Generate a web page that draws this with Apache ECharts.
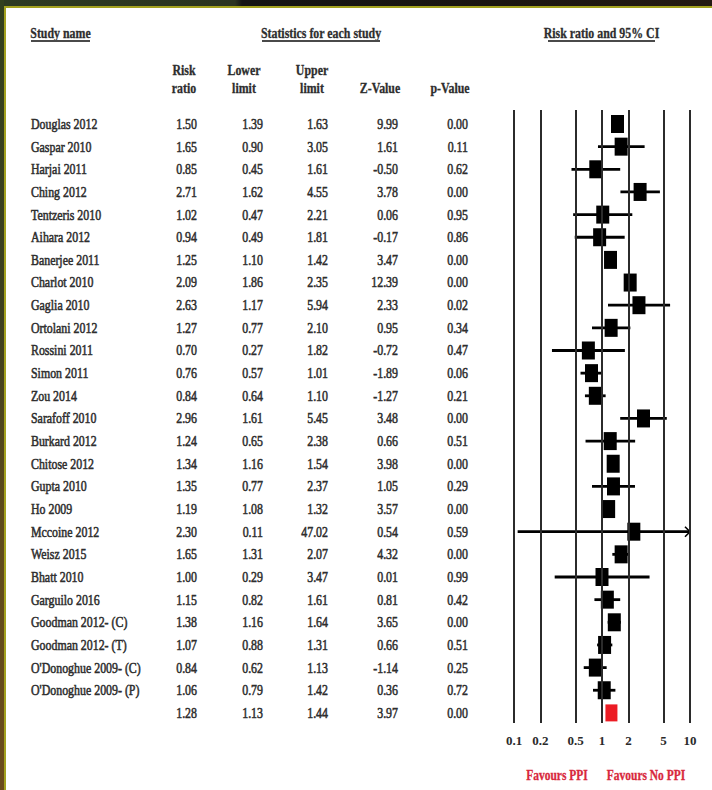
<!DOCTYPE html>
<html>
<head>
<meta charset="utf-8">
<title>Risk ratio and 95% CI</title>
<script src="https://cdn.jsdelivr.net/npm/echarts@6/dist/echarts.min.js"></script>
<style>
  html, body { margin: 0; padding: 0; overflow: hidden; }
  #frame { position: relative; width: 712px; height: 790px; background: #ffffff; }
  #topband { position: absolute; left: 0; top: 0; width: 712px; height: 6px;
    background: linear-gradient(to right, #2d3a22 0%, #2a3320 33%, #141414 34%, #1a1511 70%, #241a12 100%); }
  #topline { position: absolute; left: 0; top: 6px; width: 712px; height: 2px; background: #a3a11f; }
  #leftband { position: absolute; left: 0; top: 0; width: 4px; height: 790px;
    background: linear-gradient(to bottom, #33401f 0%, #3d3f20 40%, #5e4a1c 65%, #6b4b1c 100%); }
  #leftline { position: absolute; left: 4px; top: 6px; width: 2px; height: 784px; background: #a3a11f; }
  #chart { position: absolute; left: 0; top: 0; width: 712px; height: 790px; }
</style>
</head>
<body>
<div id="frame">
  <div id="topband"></div>
  <div id="topline"></div>
  <div id="leftband"></div>
  <div id="leftline"></div>
  <div id="chart"></div>
</div>
<script>
// ---- Study data ----
const studies = [
  'Douglas 2012', 'Gaspar 2010', 'Harjai 2011', 'Ching 2012', 'Tentzeris 2010',
  'Aihara 2012', 'Banerjee 2011', 'Charlot 2010', 'Gaglia 2010', 'Ortolani 2012',
  'Rossini 2011', 'Simon 2011', 'Zou 2014', 'Sarafoff 2010', 'Burkard 2012',
  'Chitose 2012', 'Gupta 2010', 'Ho 2009', 'Mccoine 2012', 'Weisz 2015',
  'Bhatt 2010', 'Garguilo 2016', 'Goodman 2012- (C)', 'Goodman 2012- (T)',
  "O'Donoghue 2009- (C)", "O'Donoghue 2009- (P)"
];
const riskRatio  = [1.50, 1.65, 0.85, 2.71, 1.02, 0.94, 1.25, 2.09, 2.63, 1.27, 0.70, 0.76, 0.84, 2.96, 1.24, 1.34, 1.35, 1.19, 2.30, 1.65, 1.00, 1.15, 1.38, 1.07, 0.84, 1.06];
const lowerLimit = [1.39, 0.90, 0.45, 1.62, 0.47, 0.49, 1.10, 1.86, 1.17, 0.77, 0.27, 0.57, 0.64, 1.61, 0.65, 1.16, 0.77, 1.08, 0.11, 1.31, 0.29, 0.82, 1.16, 0.88, 0.62, 0.79];
const upperLimit = [1.63, 3.05, 1.61, 4.55, 2.21, 1.81, 1.42, 2.35, 5.94, 2.10, 1.82, 1.01, 1.10, 5.45, 2.38, 1.54, 2.37, 1.32, 47.02, 2.07, 3.47, 1.61, 1.64, 1.31, 1.13, 1.42];
const zValue     = [9.99, 1.61, -0.50, 3.78, 0.06, -0.17, 3.47, 12.39, 2.33, 0.95, -0.72, -1.89, -1.27, 3.48, 0.66, 3.98, 1.05, 3.57, 0.54, 4.32, 0.01, 0.81, 3.65, 0.66, -1.14, 0.36];
const pValue     = [0.00, 0.11, 0.62, 0.00, 0.95, 0.86, 0.00, 0.00, 0.02, 0.34, 0.47, 0.06, 0.21, 0.00, 0.51, 0.00, 0.29, 0.00, 0.59, 0.00, 0.99, 0.42, 0.00, 0.51, 0.25, 0.72];

// Pooled estimate
const pooledRiskRatio = 1.28;
const pooledLower = 1.13;
const pooledUpper = 1.44;
const pooledZ = 3.97;
const pooledP = 0.00;

// Forest-plot axis
const tickValues = [0.1, 0.2, 0.5, 1, 2, 5, 10];
const tickLabels = ['0.1', '0.2', '0.5', '1', '2', '5', '10'];
const axisMin = 0.1;
const axisMax = 10;

// ---- Layout & style ----
const SERIF = '"Liberation Serif", "DejaVu Serif", serif';
const SQX = 0.82;                 // horizontal squeeze for the condensed look
const TEXT = '#2e2e2e';
const ROW_MIN = -0.618, ROW_MAX = 26.446;
const GRID_TOP = 110, GRID_H = 613;
const colRight = { rr: 197, lo: 263, up: 328, z: 398, p: 468 };
const NAME_X = 31;

const allRows = studies.map((name, i) => ({
  name, rr: riskRatio[i], lo: lowerLimit[i], up: upperLimit[i], z: zValue[i], p: pValue[i]
}));
allRows.push({ name: '', rr: pooledRiskRatio, lo: pooledLower, up: pooledUpper, z: pooledZ, p: pooledP });
const pooledRow = allRows.length - 1;

function txt(x, y, s, opt) {
  opt = opt || {};
  const color = opt.color || TEXT;
  return {
    type: 'text', x: x, y: y, scaleX: SQX,
    style: {
      text: s,
      font: (opt.weight || 'normal') + ' ' + (opt.size || 14.5) + 'px ' + SERIF,
      fill: color,
      stroke: color,
      lineWidth: opt.weight === 'bold' ? 0.3 : 0.55,
      align: opt.align || 'left',
      verticalAlign: 'middle'
    },
    z: 10
  };
}

function underline(x1, x2, y) {
  return { type: 'line', shape: { x1: x1, y1: y, x2: x2, y2: y },
           style: { stroke: '#4a4a4a', lineWidth: 1.8 }, z: 10 };
}

const headerGraphics = [
  txt(60.5, 33, 'Study name', { weight: 'bold', align: 'center' }),
  underline(31, 90, 41),
  txt(321, 33, 'Statistics for each study', { weight: 'bold', align: 'center' }),
  underline(262, 380, 41),
  txt(601.5, 33, 'Risk ratio and 95% CI', { weight: 'bold', align: 'center' }),
  underline(548, 655, 41),
  txt(184, 70, 'Risk', { weight: 'bold', align: 'center' }),
  txt(184, 88, 'ratio', { weight: 'bold', align: 'center' }),
  txt(244, 70, 'Lower', { weight: 'bold', align: 'center' }),
  txt(244, 88, 'limit', { weight: 'bold', align: 'center' }),
  txt(312, 70, 'Upper', { weight: 'bold', align: 'center' }),
  txt(312, 88, 'limit', { weight: 'bold', align: 'center' }),
  txt(380, 88, 'Z-Value', { weight: 'bold', align: 'center' }),
  txt(450, 88, 'p-Value', { weight: 'bold', align: 'center' }),
  txt(557, 776, 'Favours PPI', { weight: 'bold', align: 'center', color: '#d8283c', size: 14 }),
  txt(646, 776, 'Favours No PPI', { weight: 'bold', align: 'center', color: '#d8283c', size: 14 })
];

const chart = echarts.init(document.getElementById('chart'), null, { renderer: 'svg' });

const option = {
  animation: false,
  backgroundColor: 'transparent',
  grid: [
    { left: 0, width: 712, top: GRID_TOP, height: GRID_H },
    { left: 514, width: 176, top: GRID_TOP, height: GRID_H }
  ],
  xAxis: [
    { gridIndex: 0, type: 'value', min: 0, max: 712, show: false },
    { gridIndex: 1, type: 'log', logBase: 10, min: axisMin, max: axisMax, show: false }
  ],
  yAxis: [
    { gridIndex: 0, type: 'value', inverse: true, min: ROW_MIN, max: ROW_MAX, show: false },
    { gridIndex: 1, type: 'value', inverse: true, min: ROW_MIN, max: ROW_MAX, show: false }
  ],
  graphic: headerGraphics,
  series: [
    // Table of per-study statistics
    {
      type: 'custom', xAxisIndex: 0, yAxisIndex: 0, silent: true,
      data: allRows.map((r, i) => [0, i]),
      renderItem: function (params, api) {
        const i = api.value(1);
        const r = allRows[i];
        const y = api.coord([0, i])[1];
        const cx = (v) => api.coord([v, i])[0];
        return {
          type: 'group',
          children: [
            txt(cx(NAME_X), y, r.name),
            txt(cx(colRight.rr), y, r.rr.toFixed(2), { align: 'right' }),
            txt(cx(colRight.lo), y, r.lo.toFixed(2), { align: 'right' }),
            txt(cx(colRight.up), y, r.up.toFixed(2), { align: 'right' }),
            txt(cx(colRight.z), y, r.z.toFixed(2), { align: 'right' }),
            txt(cx(colRight.p), y, r.p.toFixed(2), { align: 'right' })
          ]
        };
      }
    },
    // Reference lines and tick labels of the log axis
    {
      type: 'scatter', xAxisIndex: 1, yAxisIndex: 1, data: [], z: 1, silent: true,
      markLine: {
        silent: true, symbol: ['none', 'none'], animation: false,
        lineStyle: { color: '#2b2b2b', width: 2, type: 'solid' },
        label: {
          show: true, position: 'end', distance: 11,
          formatter: (p) => tickLabels[tickValues.indexOf(p.value)],
          fontFamily: SERIF, fontWeight: 'bold', fontSize: 13, color: '#2a2a2a'
        },
        emphasis: { disabled: true },
        data: tickValues.map(v => ({ xAxis: v }))
      }
    },
    // Confidence intervals
    {
      type: 'custom', xAxisIndex: 1, yAxisIndex: 1, z: 3, silent: true,
      data: allRows.map((r, i) => [r.lo, r.up, i]),
      renderItem: function (params, api) {
        const lo = api.value(0), up = api.value(1), i = api.value(2);
        const a = api.coord([Math.max(lo, axisMin), i]);
        const b = api.coord([Math.min(up, axisMax), i]);
        const children = [{
          type: 'line', shape: { x1: a[0], y1: a[1], x2: b[0], y2: b[1] },
          style: { stroke: '#000', lineWidth: 2.8 }
        }];
        if (up > axisMax) {
          children.push({
            type: 'polyline',
            shape: { points: [[b[0] - 5, b[1] - 5], [b[0], b[1]], [b[0] - 5, b[1] + 5]] },
            style: { stroke: '#000', lineWidth: 1.6, fill: 'none' }
          });
        }
        if (lo < axisMin) {
          children.push({
            type: 'polyline',
            shape: { points: [[a[0] + 5, a[1] - 5], [a[0], a[1]], [a[0] + 5, a[1] + 5]] },
            style: { stroke: '#000', lineWidth: 1.6, fill: 'none' }
          });
        }
        return { type: 'group', children: children };
      }
    },
    // Study point estimates
    {
      type: 'scatter', xAxisIndex: 1, yAxisIndex: 1, z: 4, silent: true,
      symbol: 'rect', symbolSize: [13, 18],
      itemStyle: { color: '#000', opacity: 1 },
      data: allRows.slice(0, pooledRow).map((r, i) => [r.rr, i])
    },
    // Pooled estimate
    {
      type: 'scatter', xAxisIndex: 1, yAxisIndex: 1, z: 5, silent: true,
      symbol: 'rect', symbolSize: [12, 17],
      itemStyle: { color: '#ec1c24', opacity: 1 },
      data: [[pooledRiskRatio, pooledRow]]
    }
  ]
};

chart.setOption(option);
</script>
</body>
</html>
